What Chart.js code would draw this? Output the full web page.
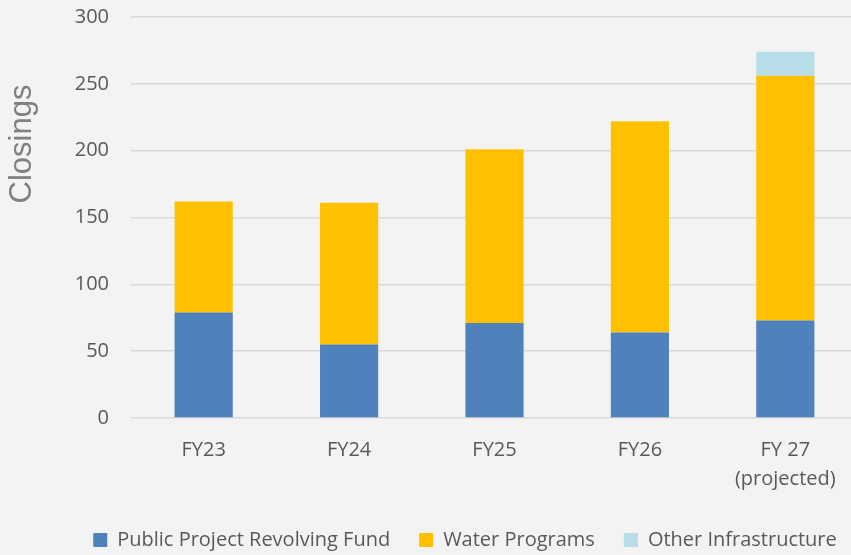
<!DOCTYPE html>
<html>
<head>
<meta charset="utf-8">
<script src="https://cdn.jsdelivr.net/npm/chart.js@4.4.1/dist/chart.umd.min.js"></script>
<style>
  html, body { margin: 0; padding: 0; background: #f3f3f3; overflow: hidden; }
  #wrap { width: 866px; height: 560px; }
</style>
</head>
<body>
<div id="wrap"><canvas id="myChart" width="866" height="560"></canvas></div>
<script>
// data
const labels = ['FY23', 'FY24', 'FY25', 'FY26', ['FY 27', '(projected)']];
const revolvingFund = [79, 55, 71, 64, 73];
const waterPrograms = [83, 106, 130, 158, 183];
const otherInfrastructure = [0, 0, 0, 0, 18];
const yMin = 0;
const yMax = 300;
const yStep = 50;

const textColor = '#595959';
const tickFont = { family: "'Open Sans', sans-serif", size: 20 };

const background = {
  id: 'custom_canvas_background_color',
  beforeDraw: (chart) => {
    const ctx = chart.canvas.getContext('2d');
    ctx.save();
    ctx.globalCompositeOperation = 'destination-over';
    ctx.fillStyle = '#f3f3f3';
    ctx.fillRect(0, 0, chart.width, chart.height);
    ctx.restore();
  }
};

// y axis title sits above the middle of the axis, so draw it here
const yTitle = {
  id: 'y_title',
  afterDraw: (chart) => {
    const ctx = chart.ctx;
    ctx.save();
    ctx.translate(22, 144);
    ctx.rotate(-Math.PI / 2);
    ctx.font = "31px 'Liberation Sans', Arial, sans-serif";
    ctx.fillStyle = '#808080';
    ctx.textAlign = 'center';
    ctx.textBaseline = 'middle';
    ctx.fillText('Closings', 0, 0);
    ctx.restore();
  }
};

// legend is centred a bit right of the canvas middle
const legendShift = {
  id: 'legend_shift',
  afterLayout: (chart) => {
    chart.legend.left += 21;
    chart.legend.right += 21;
  }
};

const data = {
  labels: labels,
  datasets: [{
    label: 'Public Project Revolving Fund',
    backgroundColor: '#4f81bd',
    data: revolvingFund,
  }, {
    label: 'Water Programs',
    backgroundColor: '#ffc000',
    data: waterPrograms,
  }, {
    label: 'Other Infrastructure',
    backgroundColor: '#b7dee8',
    data: otherInfrastructure,
  }]
};

const scales = {
  x: {
    stacked: true,
    grid: { display: false, drawTicks: false },
    border: { display: false },
    ticks: {
      color: textColor,
      font: Object.assign({ lineHeight: 1.45 }, tickFont),
      padding: 18,
      maxRotation: 0,
    },
    afterFit: (scale) => { scale.height -= 11; }
  },
  y: {
    stacked: true,
    min: yMin,
    max: yMax,
    // invisible tick marks keep the labels away from the plot
    grid: { color: '#d9d9d9', lineWidth: 1.5, drawTicks: true, tickLength: 20, tickColor: 'rgba(0,0,0,0)' },
    border: { display: false },
    ticks: {
      stepSize: yStep,
      color: textColor,
      font: tickFont,
      padding: 2,
    },
    afterFit: (scale) => { scale.width = 101; }
  }
};

const config = {
  type: 'bar',
  data: data,
  options: {
    responsive: false,
    animation: false,
    categoryPercentage: 1,
    barPercentage: 0.4,
    layout: { padding: { left: 30, right: 8, top: 17, bottom: 0 } },
    scales: scales,
    plugins: {
      legend: {
        position: 'bottom',
        labels: {
          boxWidth: 14,
          boxHeight: 14,
          padding: 29,
          color: textColor,
          font: tickFont,
        }
      },
      tooltip: { enabled: false }
    },
  },
  plugins: [background, yTitle, legendShift]
};

const myChart = new Chart(
  document.getElementById('myChart'),
  config
);
</script>
</body>
</html>
